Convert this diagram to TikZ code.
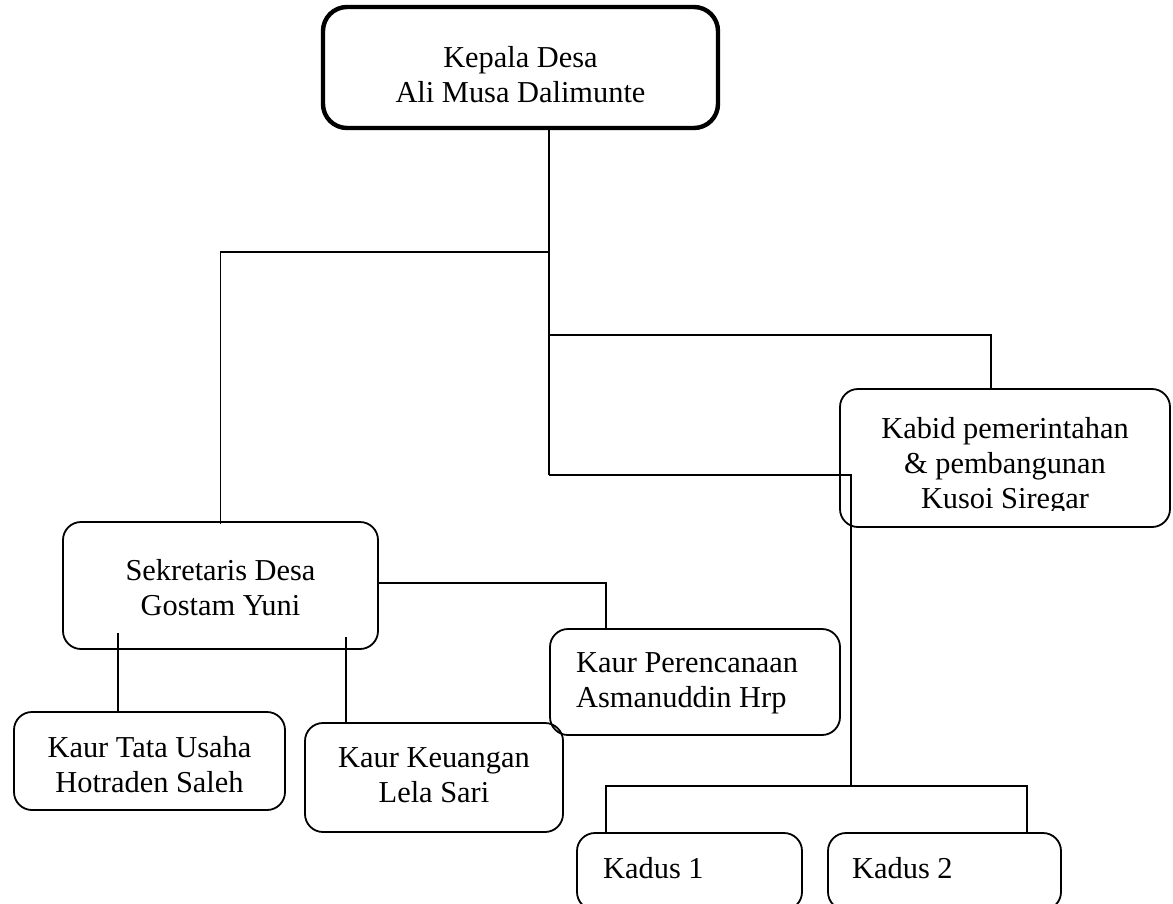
\documentclass[tikz,border=0pt]{standalone}
\usepackage{fontspec}
\setmainfont{Liberation Serif}
\begin{document}
\begin{tikzpicture}[x=1pt,y=-1pt,
  box/.style={draw, line width=1.8pt, rounded corners=18pt, inner sep=0pt},
  topbox/.style={draw, line width=4.4pt, rounded corners=24pt, inner sep=0pt},
  txt/.style={font=\fontsize{30.4}{35}\selectfont, inner sep=0pt, align=center, anchor=north},
  ltxt/.style={font=\fontsize{30.4}{35}\selectfont, inner sep=0pt, align=left, anchor=north west},
  link/.style={draw, line width=1.8pt}]
\useasboundingbox (0,0) rectangle (1173,903);
\begin{scope}
\clip (0,0) rectangle (1173,903);
% boxes
\node[topbox, minimum width=395pt, minimum height=121pt] (kepala) at (520.5,67.5) {};
\node[box, minimum width=330pt, minimum height=138pt] (kabid) at (1005,458) {};
\node[box, minimum width=315pt, minimum height=127pt] (sek) at (220.5,585.5) {};
\node[box, minimum width=290pt, minimum height=106pt] (per) at (695,682) {};
\node[box, minimum width=271pt, minimum height=98pt] (tata) at (149.5,761) {};
\node[box, minimum width=258pt, minimum height=109pt] (keu) at (434,777.5) {};
\node[box, minimum width=225pt, minimum height=77pt] (kad1) at (689.5,871.5) {};
\node[box, minimum width=233pt, minimum height=77pt] (kad2) at (944.5,871.5) {};
% texts
\node[txt] (kepalaT) at (520.5,46) {Kepala Desa\\Ali Musa Dalimunte};
\node[txt] (sekT) at (220.5,559) {Sekretaris Desa\\Gostam Yuni};
\node[ltxt] (perT) at (576,652.5) {Kaur Perencanaan\\Asmanuddin Hrp};
\node[txt] (tataT) at (149.5,736.5) {Kaur Tata Usaha\\Hotraden Saleh};
\node[txt] (keuT) at (434,747.5) {Kaur Keuangan\\Lela Sari};
\node[ltxt] (kad1T) at (603,857.5) {Kadus 1};
\node[ltxt] (kad2T) at (852,857.5) {Kadus 2};
\begin{scope}
\clip (835,380) rectangle (1175,510);
\node[txt] (kabidT) at (1005,417.5) {Kabid pemerintahan\\\& pembangunan\\Kusoi Siregar};
\end{scope}
% junction coordinates
\coordinate (j1) at (549,252);
\coordinate (j2) at (549,335);
\coordinate (j3) at (549,475);
\coordinate (k2) at (991,335);
\coordinate (kb) at (851,475);
\coordinate (kd) at (851,786);
\coordinate (kl) at (606,786);
\coordinate (kr) at (1027,786);
\coordinate (sp) at (606,583);
\coordinate (st) at (118,633);
\coordinate (sk) at (346,637);
% connectors
\path[link] (kepala.south -| j1) -- (j3);
\path[link] (j1) -- (j1 -| sek.north) -- ([yshift=-3pt]sek.north);
\path[link] (j2) -- (k2) -- (k2 |- kabid.north);
\path[link] (j3) -- (kb) -- (kd);
\path[link] (kl |- kad1.north) -- (kl) -- (kr) -- (kr |- kad2.north);
\path[link] (sek.east |- sp) -- (sp) -- (sp |- per.north);
\path[link] (st) -- (st |- tata.north);
\path[link] (sk) -- (sk |- keu.north);
\end{scope}
\end{tikzpicture}
\end{document}
